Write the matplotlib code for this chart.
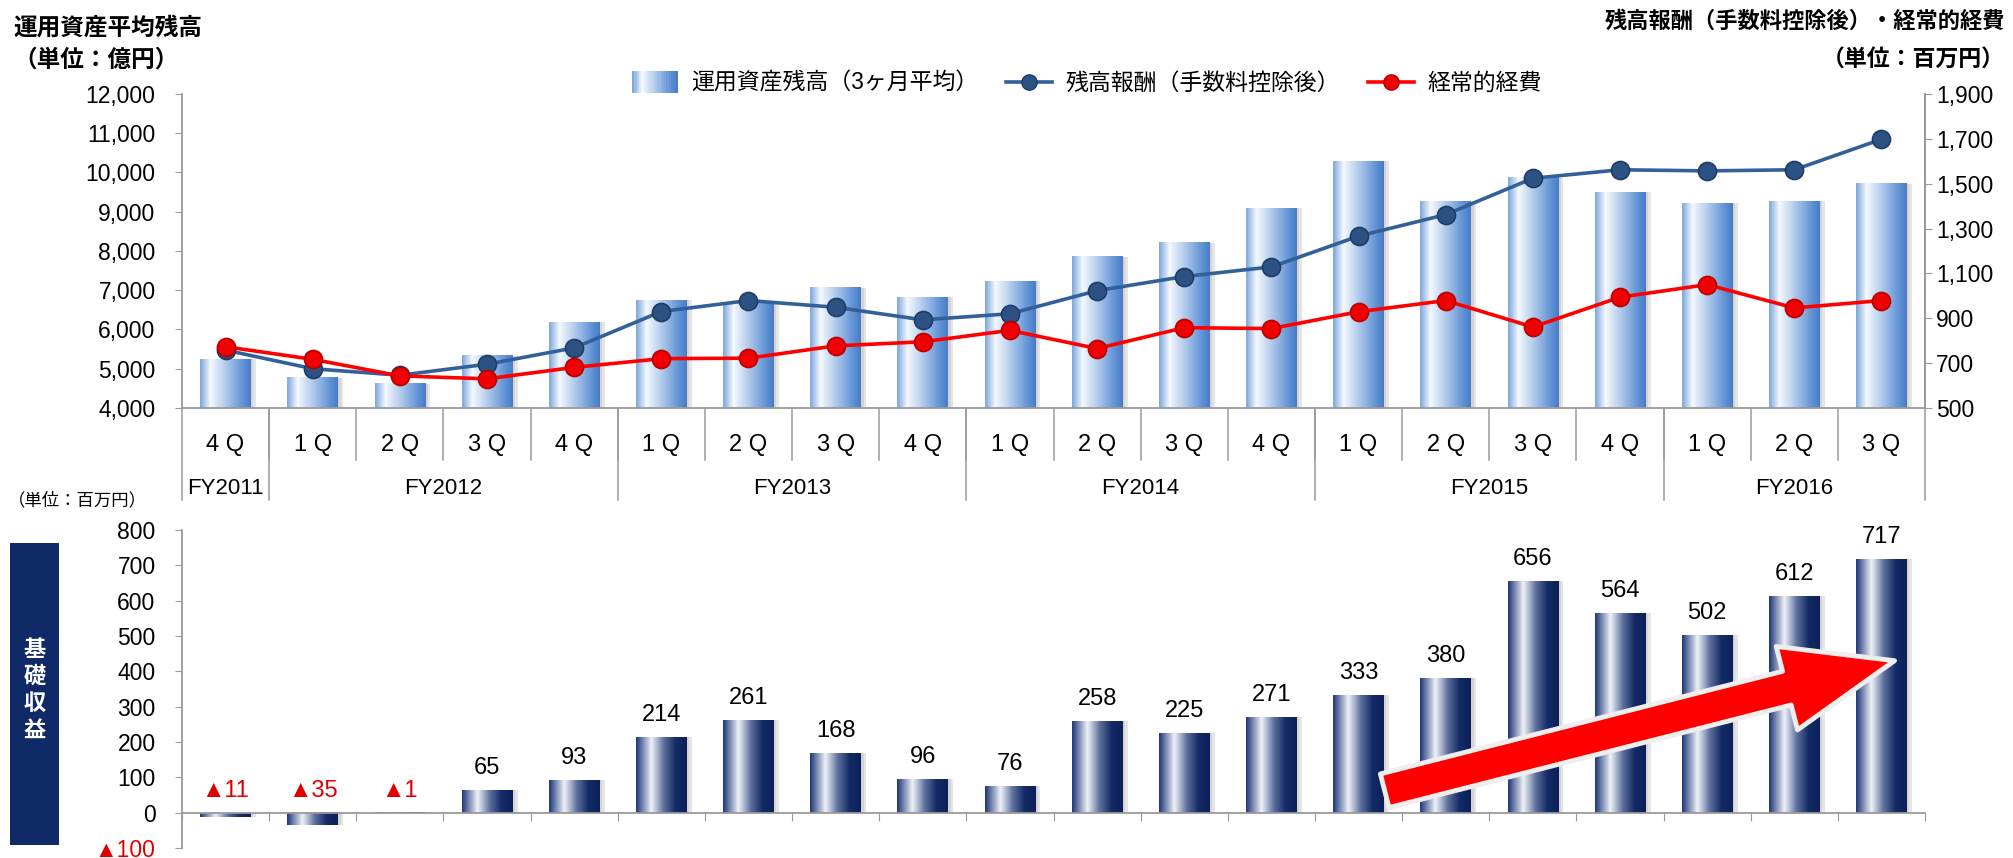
"""Quarterly AUM, fee income, costs and base earnings (FY2011 4Q - FY2016 3Q)."""

import matplotlib
matplotlib.use("Agg")
import matplotlib.pyplot as plt
import numpy as np
from matplotlib.colors import LinearSegmentedColormap
from matplotlib.legend_handler import HandlerBase
from matplotlib.lines import Line2D
from matplotlib.patches import FancyArrowPatch, Patch, Rectangle
from matplotlib.ticker import FuncFormatter

plt.rcParams["font.family"] = ["Liberation Sans", "Noto Sans CJK JP", "DejaVu Sans"]

# ---- data -------------------------------------------------------------
quarters = ["4Q",
            "1Q", "2Q", "3Q", "4Q",
            "1Q", "2Q", "3Q", "4Q",
            "1Q", "2Q", "3Q", "4Q",
            "1Q", "2Q", "3Q", "4Q",
            "1Q", "2Q", "3Q"]
fiscal_years = ["FY2011", "FY2012", "FY2013", "FY2014", "FY2015", "FY2016"]
fy_counts = [1, 4, 4, 4, 4, 3]

# 運用資産残高（3ヶ月平均）, 億円 (left axis)
aum = [5240, 4775, 4615, 5330, 6180, 6740, 6700, 7060, 6820, 7225,
       7850, 8210, 9095, 10290, 9265, 9870, 9500, 9220, 9265, 9710]
# 残高報酬（手数料控除後）, 百万円 (right axis)
fee = [758, 675, 646, 695, 768, 930, 979, 949, 893, 920,
       1023, 1086, 1129, 1266, 1362, 1524, 1562, 1557, 1562, 1698]
# 経常的経費, 百万円 (right axis)
cost = [773, 717, 643, 630, 681, 720, 722, 777, 795, 846,
        765, 858, 854, 929, 979, 861, 994, 1050, 946, 979]
# 基礎収益, 百万円
base = [-11, -35, -1, 65, 93, 214, 261, 168, 96, 76,
        258, 225, 271, 333, 380, 656, 564, 502, 612, 717]

x = np.arange(len(quarters))
bar_w = 0.58

top_cmap = LinearSegmentedColormap.from_list(
    "aum", [(0.0, "#7fa8dd"), (0.2, "#f5f9fe"), (0.55, "#a6c3e9"),
            (0.88, "#5a8ed4"), (1.0, "#4a7cc6")])
bot_cmap = LinearSegmentedColormap.from_list(
    "base", [(0.0, "#21397a"), (0.3, "#eef2f8"), (0.55, "#5d6f9c"),
             (0.78, "#152b66"), (1.0, "#0c2159")])
spine_c = "#9a9a9a"


def gradient_bars(axis, xs, vals, bottom, cmap):
    grad = np.linspace(0, 1, 64).reshape(1, -1)
    # soft shadow on the right
    axis.bar(xs + 0.06, np.array(vals) - bottom, bar_w, bottom=bottom,
             color="#000000", alpha=0.10, zorder=1, linewidth=0)
    axis.bar(xs + 0.03, np.array(vals) - bottom, bar_w, bottom=bottom,
             color="#000000", alpha=0.08, zorder=1, linewidth=0)
    for xi, v in zip(xs, vals):
        axis.imshow(grad, extent=(xi - bar_w / 2, xi + bar_w / 2, bottom, v),
                    aspect="auto", cmap=cmap, zorder=2, interpolation="bicubic")


class GradientHandler(HandlerBase):
    def create_artists(self, legend, orig_handle, xdescent, ydescent,
                       width, height, fontsize, trans):
        n = 20
        arts = []
        for k in range(n):
            r = Rectangle((-xdescent + width * k / n, -ydescent - 2), width / n + 0.3,
                          height + 4, facecolor=top_cmap(k / (n - 1)),
                          edgecolor="none", transform=trans)
            arts.append(r)
        return arts


fig = plt.figure(figsize=(20.13, 8.58), dpi=100)
ax = fig.add_axes([0.0904, 0.5245, 0.8659, 0.3660])
axb = fig.add_axes([0.0904, 0.0117, 0.8659, 0.3706])

# ---- top chart --------------------------------------------------------
gradient_bars(ax, x, aum, 4000, top_cmap)
ax.set_xlim(-0.5, len(x) - 0.5)
ax.set_ylim(4000, 12000)
ax.set_yticks(range(4000, 12001, 1000))
ax.yaxis.set_major_formatter(FuncFormatter(lambda v, p: f"{v:,.0f}"))
ax.tick_params(axis="y", labelsize=16.5, length=5, pad=14, color=spine_c)
ax.tick_params(axis="x", length=0, labelbottom=False)
ax.spines["top"].set_visible(False)
for s in ("left", "right", "bottom"):
    ax.spines[s].set_color(spine_c)
    ax.spines[s].set_linewidth(1.3)

ax2 = ax.twinx()
ax2.set_ylim(500, 1900)
ax2.set_yticks(range(500, 1901, 200))
ax2.yaxis.set_major_formatter(FuncFormatter(lambda v, p: f"{v:,.0f}"))
ax2.tick_params(axis="y", labelsize=16.5, length=5, pad=3, color=spine_c)
for s in ("top", "left", "bottom"):
    ax2.spines[s].set_visible(False)
ax2.spines["right"].set_color(spine_c)
ax2.spines["right"].set_linewidth(1.3)

ax2.plot(x, fee, color="#34609a", lw=2.6, marker="o", ms=13,
         mfc="#2c5283", mec="#1f3c66", mew=1.2, zorder=3)
ax2.plot(x, cost, color="#ff0000", lw=2.6, marker="o", ms=13,
         mfc="#f00000", mec="#b80000", mew=1.2, zorder=4)

# category table under the top chart
xt = ax.get_xaxis_transform()
for k in range(1, len(x)):
    ax.plot([k - 0.5, k - 0.5], [0, -0.166], transform=xt, color=spine_c,
            lw=1.1, clip_on=False)
for xi, q in zip(x, quarters):
    ax.text(xi, -0.118, f"{q[0]} {q[1]}", transform=xt, ha="center", va="center",
            fontsize=17)
edges = np.concatenate([[0], np.cumsum(fy_counts)]) - 0.5
for e in edges:
    ax.plot([e, e], [0, -0.293], transform=xt, color=spine_c, lw=1.1, clip_on=False)
for fy, a, b in zip(fiscal_years, edges[:-1], edges[1:]):
    ax.text((a + b) / 2, -0.255, fy, transform=xt, ha="center", va="center",
            fontsize=16)

# legend
handles = [Patch(), Line2D([], [], color="#34609a", lw=2.6, marker="o", ms=11,
                           mfc="#2c5283", mec="#1f3c66"),
           Line2D([], [], color="#ff0000", lw=2.6, marker="o", ms=11,
                  mfc="#f00000", mec="#b80000")]
labels = ["運用資産残高（3ヶ月平均）", "残高報酬（手数料控除後）", "経常的経費"]
fig.legend(handles, labels, loc="center", bbox_to_anchor=(0.540, 0.903),
           ncol=3, frameon=False, fontsize=16.5, handlelength=2.0,
           columnspacing=1.2, handletextpad=0.6,
           handler_map={Patch: GradientHandler()})

fig.text(0.0065, 1 - 28 / 858, "運用資産平均残高", fontsize=17, fontweight="bold",
         ha="left", va="center")
fig.text(0.0065, 1 - 60 / 858, "（単位：億円）", fontsize=17, fontweight="bold",
         ha="left", va="center")
fig.text(0.996, 1 - 22 / 858, "残高報酬（手数料控除後）・経常的経費", fontsize=16,
         fontweight="bold", ha="right", va="center")
fig.text(0.996, 1 - 60 / 858, "（単位：百万円）", fontsize=16.5, fontweight="bold",
         ha="right", va="center")

# ---- bottom chart -----------------------------------------------------
gradient_bars(axb, x, base, 0, bot_cmap)
axb.set_xlim(-0.5, len(x) - 0.5)
axb.set_ylim(-100, 800)
axb.set_yticks(range(-100, 801, 100))
axb.set_yticklabels(["▲100"] + [str(v) for v in range(0, 801, 100)])
axb.get_yticklabels()[0].set_color("#e00000")
axb.tick_params(axis="y", labelsize=16.5, length=5, pad=14, color=spine_c)
axb.set_xticks(np.arange(-0.5, len(x), 1.0))
axb.tick_params(axis="x", length=6, color=spine_c, labelbottom=False)
axb.spines["bottom"].set_position(("data", 0))
for s in ("top", "right"):
    axb.spines[s].set_visible(False)
for s in ("left", "bottom"):
    axb.spines[s].set_color(spine_c)
    axb.spines[s].set_linewidth(1.3)

for xi, v in zip(x, base):
    if v < 0:
        axb.annotate(f"▲{abs(v)}", (xi, 0), xytext=(0, 8), textcoords="offset points",
                     ha="center", va="bottom", fontsize=17, color="#e00000")
    else:
        axb.annotate(f"{v}", (xi, v), xytext=(0, 8), textcoords="offset points",
                     ha="center", va="bottom", fontsize=17)

arrow = FancyArrowPatch((13.3, 62), (19.15, 430),
                        arrowstyle="simple,head_length=80,head_width=62,tail_width=25",
                        mutation_scale=1, facecolor="#ff0000", edgecolor="#eeeeee",
                        lw=3.5, zorder=6, clip_on=False, shrinkA=0, shrinkB=0)
axb.add_patch(arrow)

fig.text(0.004, 1 - 500 / 858, "（単位：百万円）", fontsize=12.5, ha="left", va="center")
fig.patches.append(Rectangle((0.005, 0.0152), 0.0243, 0.352, facecolor="#0f2a66",
                             edgecolor="none", transform=fig.transFigure, figure=fig))
for k, ch in enumerate("基礎収益"):
    fig.text(0.0172, 1 - (650 + k * 27) / 858, ch, color="white", fontsize=16,
             fontweight="bold", ha="center", va="center")

fig.savefig("out.png", dpi=100)
